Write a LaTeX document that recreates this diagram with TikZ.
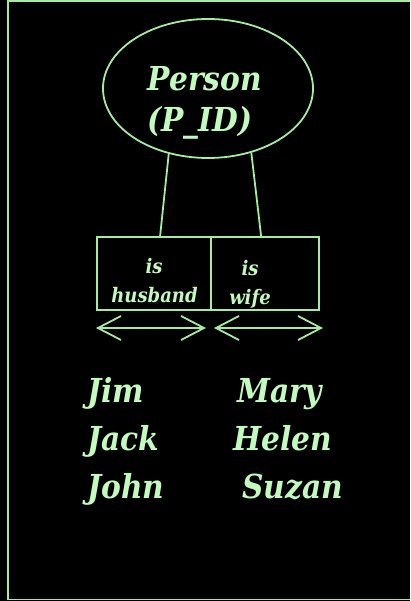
\documentclass[tikz,border=0pt]{standalone}
\usepackage{fontspec}
\setmainfont{DejaVu Serif Condensed}
\usetikzlibrary{arrows.meta,shapes.geometric}

\definecolor{erline}{RGB}{165,235,160}
\definecolor{ertext}{RGB}{195,250,190}

\begin{document}
\begin{tikzpicture}[x=1pt,y=-1pt,
		entity/.style={ellipse, draw=erline, line width=1.8pt, minimum width=210pt, minimum height=139pt, inner sep=0pt},
		rolebox/.style={rectangle, draw=erline, line width=1.8pt, minimum height=73pt, inner sep=0pt},
		roletext/.style={text=ertext, font=\bfseries\itshape\fontsize{20}{22}\selectfont, inner sep=0pt, anchor=base},
		member/.style={text=ertext, font=\bfseries\itshape\fontsize{33}{36}\selectfont, inner sep=0pt, anchor=base west},
		dir/.style={draw=erline, line width=1.8pt, {Straight Barb[length=23pt,width=24pt]}-{Straight Barb[length=23pt,width=24pt]}}
	]
	
	% Black page with the frame on the left, top and bottom.
	\fill[black] (0,0) rectangle (410,601);
	\useasboundingbox (0,0) rectangle (410,601);
	\draw[erline, line width=1.8pt] (410,0.9) -- (8,0.9) -- (8,599.5) -- (410,599.5);
	
	% Draw the entity.
	\node[entity] (person) at (208,88.5) {};
	\node[text=ertext, font=\bfseries\itshape\fontsize{33}{36}\selectfont, inner sep=0pt, anchor=base] (pname) at (205,91) {Person};
	\node[text=ertext, font=\bfseries\itshape\fontsize{33}{36}\selectfont, inner sep=0pt, anchor=base] (pid) at (200,132) {(P\_ID)};
	
	% Draw the two roles.
	\node[rolebox, minimum width=114pt] (husband) at (154,273.5) {};
	\node[rolebox, minimum width=108pt] (wife) at (265,273.5) {};
	\node[roletext] (is1) at (154,273) {is};
	\node[roletext] (hname) at (154.5,302) {husband};
	\node[roletext] (is2) at (250,275) {is};
	\node[roletext] (wname) at (250,304) {wife};
	
	% Connect the entity to the roles.
	\draw[erline, line width=1.8pt] (person.239) -- ([xshift=64pt]husband.north west);
	\draw[erline, line width=1.8pt] (person.304) -- ([xshift=51pt]wife.north west);
	
	% Draw the double arrows under the roles.
	\coordinate (la) at (96,328);
	\coordinate (lb) at (206,328);
	\coordinate (ra) at (214,328);
	\coordinate (rb) at (323,328);
	\draw[dir] (la) -- (lb);
	\draw[dir] (ra) -- (rb);
	
	% Draw the names.
	\foreach \n/\x/\y/\t in {jim/87/402/Jim, jack/87/450/Jack, john/87/498/John, mary/237/402/Mary, helen/233/450/Helen, suzan/242/498/Suzan}{
		\node[member] (\n) at (\x,\y) {\t};
	}
	
\end{tikzpicture}
\end{document}
